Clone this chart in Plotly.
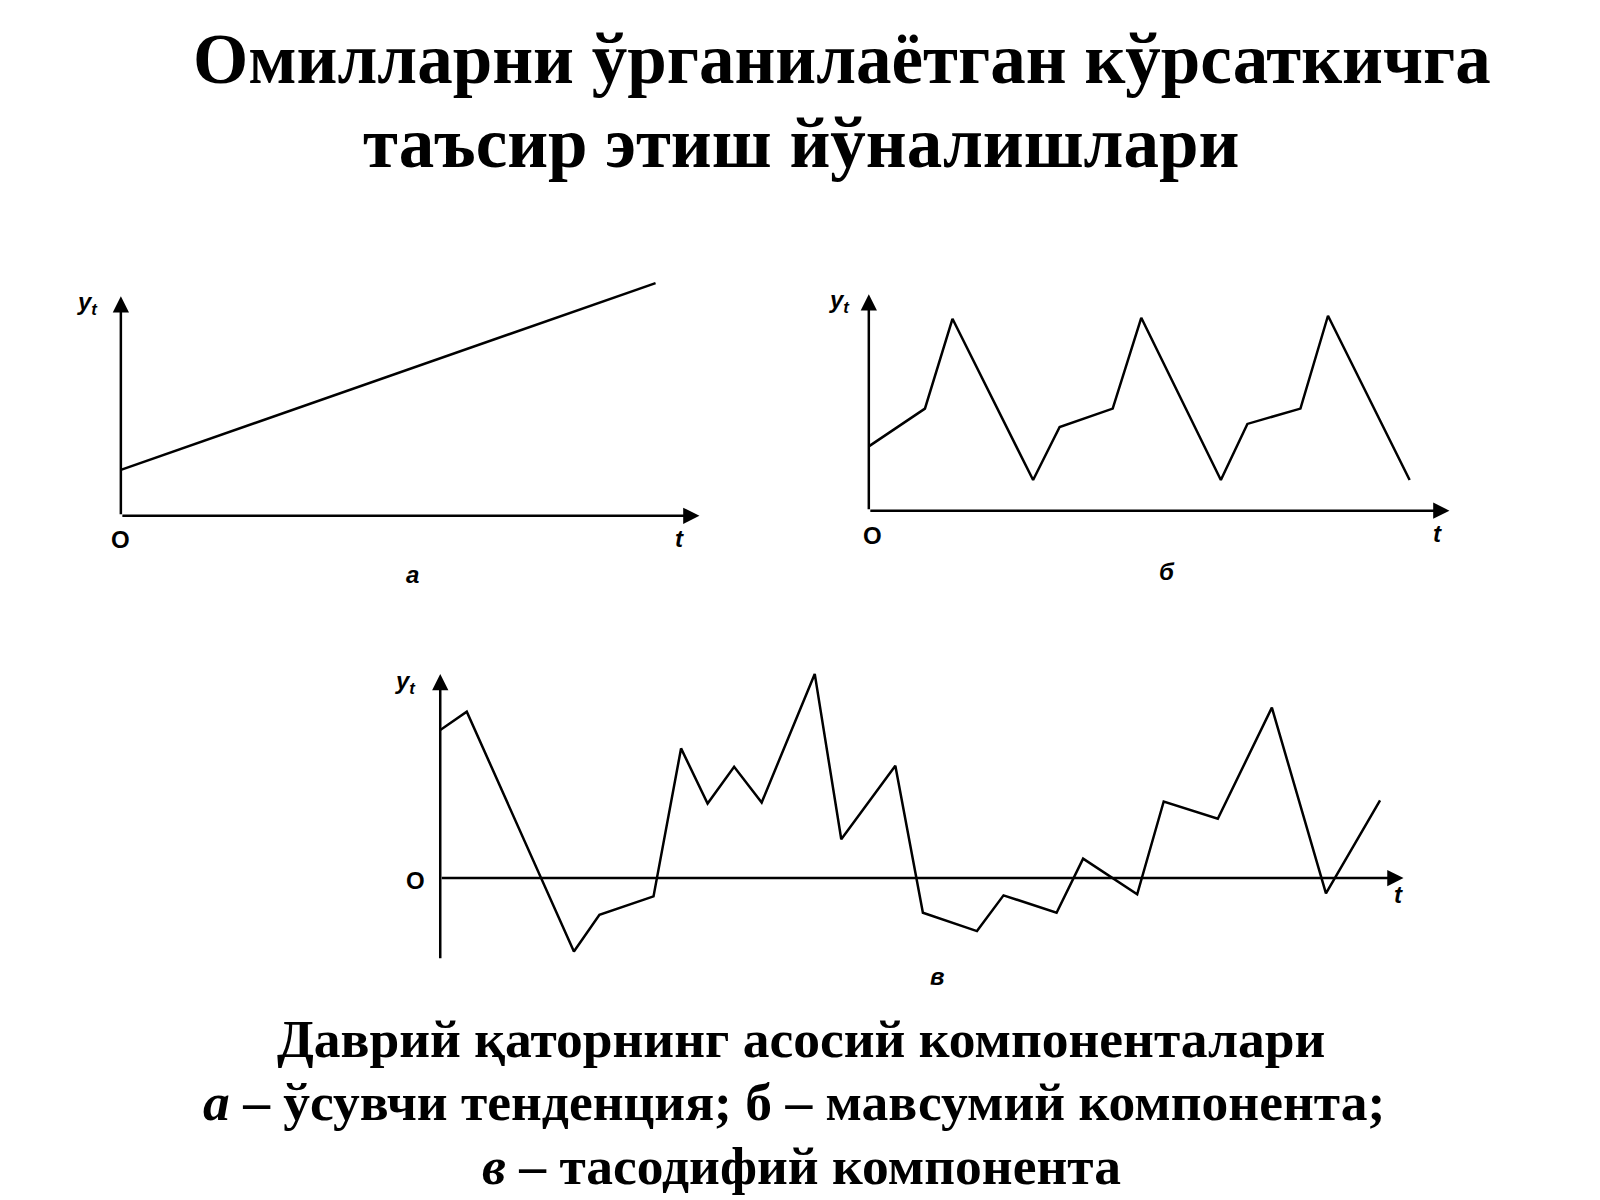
import plotly.graph_objects as go

# Panel a: rising trend
a_t = [0, 52.4]
a_y = [4.5, 22.8]
# Panel b: seasonal component
b_t = [0, 5.5, 8.2, 16.1, 18.7, 23.9, 26.7, 34.5, 37.1, 42.3, 45, 53]
b_y = [6.3, 10, 18.8, 3, 8.2, 10, 18.9, 3, 8.5, 10, 19.1, 3]
# Panel c: random component
c_t = [0, 2.6, 13.1, 15.6, 20.9, 23.6, 26.2, 28.8, 31.5, 36.7, 39.3, 44.6, 47.3,
       52.6, 55.2, 60.4, 63.0, 68.3, 70.9, 76.2, 81.5, 86.8, 92.1]
c_y = [14.5, 16.3, -7.2, -3.6, -1.8, 12.7, 7.3, 10.9, 7.4, 20.0, 3.8, 11.0, -3.4,
       -5.2, -1.7, -3.4, 1.9, -1.6, 7.5, 5.8, 16.7, -1.5, 7.6]

W, H = 1600, 1200
def T(r): return (r - 7.4) / 0.98
def dx(a, b): return [T(a) / W, T(b) / W]
def dy(top, bot): return [1 - T(bot) / H, 1 - T(top) / H]

fig = go.Figure()
line = dict(color="black", width=2.5)
fig.add_trace(go.Scatter(x=a_t, y=a_y, mode="lines", line=line, xaxis="x", yaxis="y"))
fig.add_trace(go.Scatter(x=b_t, y=b_y, mode="lines", line=line, xaxis="x2", yaxis="y2"))
fig.add_trace(go.Scatter(x=c_t, y=c_y, mode="lines", line=line, xaxis="x3", yaxis="y3"))

hid = dict(visible=False, showgrid=False, zeroline=False)
fig.update_layout(
    width=W, height=H, margin=dict(l=0, r=0, t=0, b=0), showlegend=False,
    plot_bgcolor="white", paper_bgcolor="white",
    xaxis=dict(domain=dx(118, 700), range=[0, 58.2], **hid),
    yaxis=dict(domain=dy(270, 520), range=[-1.5, 23.5], **hid),
    xaxis2=dict(domain=dx(851, 1440), range=[0, 58.9], **hid),
    yaxis2=dict(domain=dy(280, 520), range=[-2, 22], **hid),
    xaxis3=dict(domain=dx(431, 1400), range=[0, 96.9], **hid),
    yaxis3=dict(domain=dy(650, 945), range=[-8.5, 21], **hid),
)

anns = []
def arrow(xr, yr, x0, y0, x1, y1):
    anns.append(dict(xref=xr, yref=yr, axref=xr, ayref=yr, x=x1, y=y1, ax=x0, ay=y0,
                     text="", showarrow=True, arrowhead=2, arrowsize=1.3, arrowwidth=2.5,
                     arrowcolor="black"))
arrow("x", "y", 0, 0, 0, 21.5)
arrow("x", "y", 0, 0, 56.7, 0)
arrow("x2", "y2", 0, 0, 0, 21.2)
arrow("x2", "y2", 0, 0, 56.9, 0)
arrow("x3", "y3", 0, -8.0, 0, 20.0)
arrow("x3", "y3", 0, 0, 94.4, 0)

def txt(x, y, s, size, italic=False, font="Liberation Sans"):
    anns.append(dict(xref="paper", yref="paper", x=T(x) / W, y=1 - T(y) / H, text=s,
                     showarrow=False, xanchor="center", yanchor="middle",
                     font=dict(family=font, size=size, color="black",
                               style="italic" if italic else "normal", weight="bold")))

for (ox, oy, tx, ty, yx, yy, lx, ly, lab) in [
        (118, 528, 665, 527, 85, 297, 404, 563, "а"),
        (855, 524, 1408, 522, 822, 295, 1143, 560, "б"),
        (407, 862, 1370, 876, 397, 668, 918, 957, "в")]:
    txt(ox, oy, "O", 24)
    txt(tx, ty, "t", 24, italic=True)
    txt(yx, yy, "y<sub>t</sub>", 24, italic=True)
    txt(lx, ly, lab, 24, italic=True)

serif = "Liberation Serif"
txt(825, 57, "Омилларни ўрганилаётган кўрсаткичга", 71, font=serif)
txt(785, 140, "таъсир этиш йўналишлари", 71, font=serif)
txt(785, 1018, "Даврий қаторнинг асосий компоненталари", 53.5, font=serif)
txt(778, 1080, "<i>а</i> – ўсувчи тенденция; б – мавсумий компонента;", 53.5, font=serif)
txt(785, 1142, "<i>в</i> – тасодифий компонента", 53.5, font=serif)

fig.update_layout(annotations=anns)
fig.write_html("out.html")
